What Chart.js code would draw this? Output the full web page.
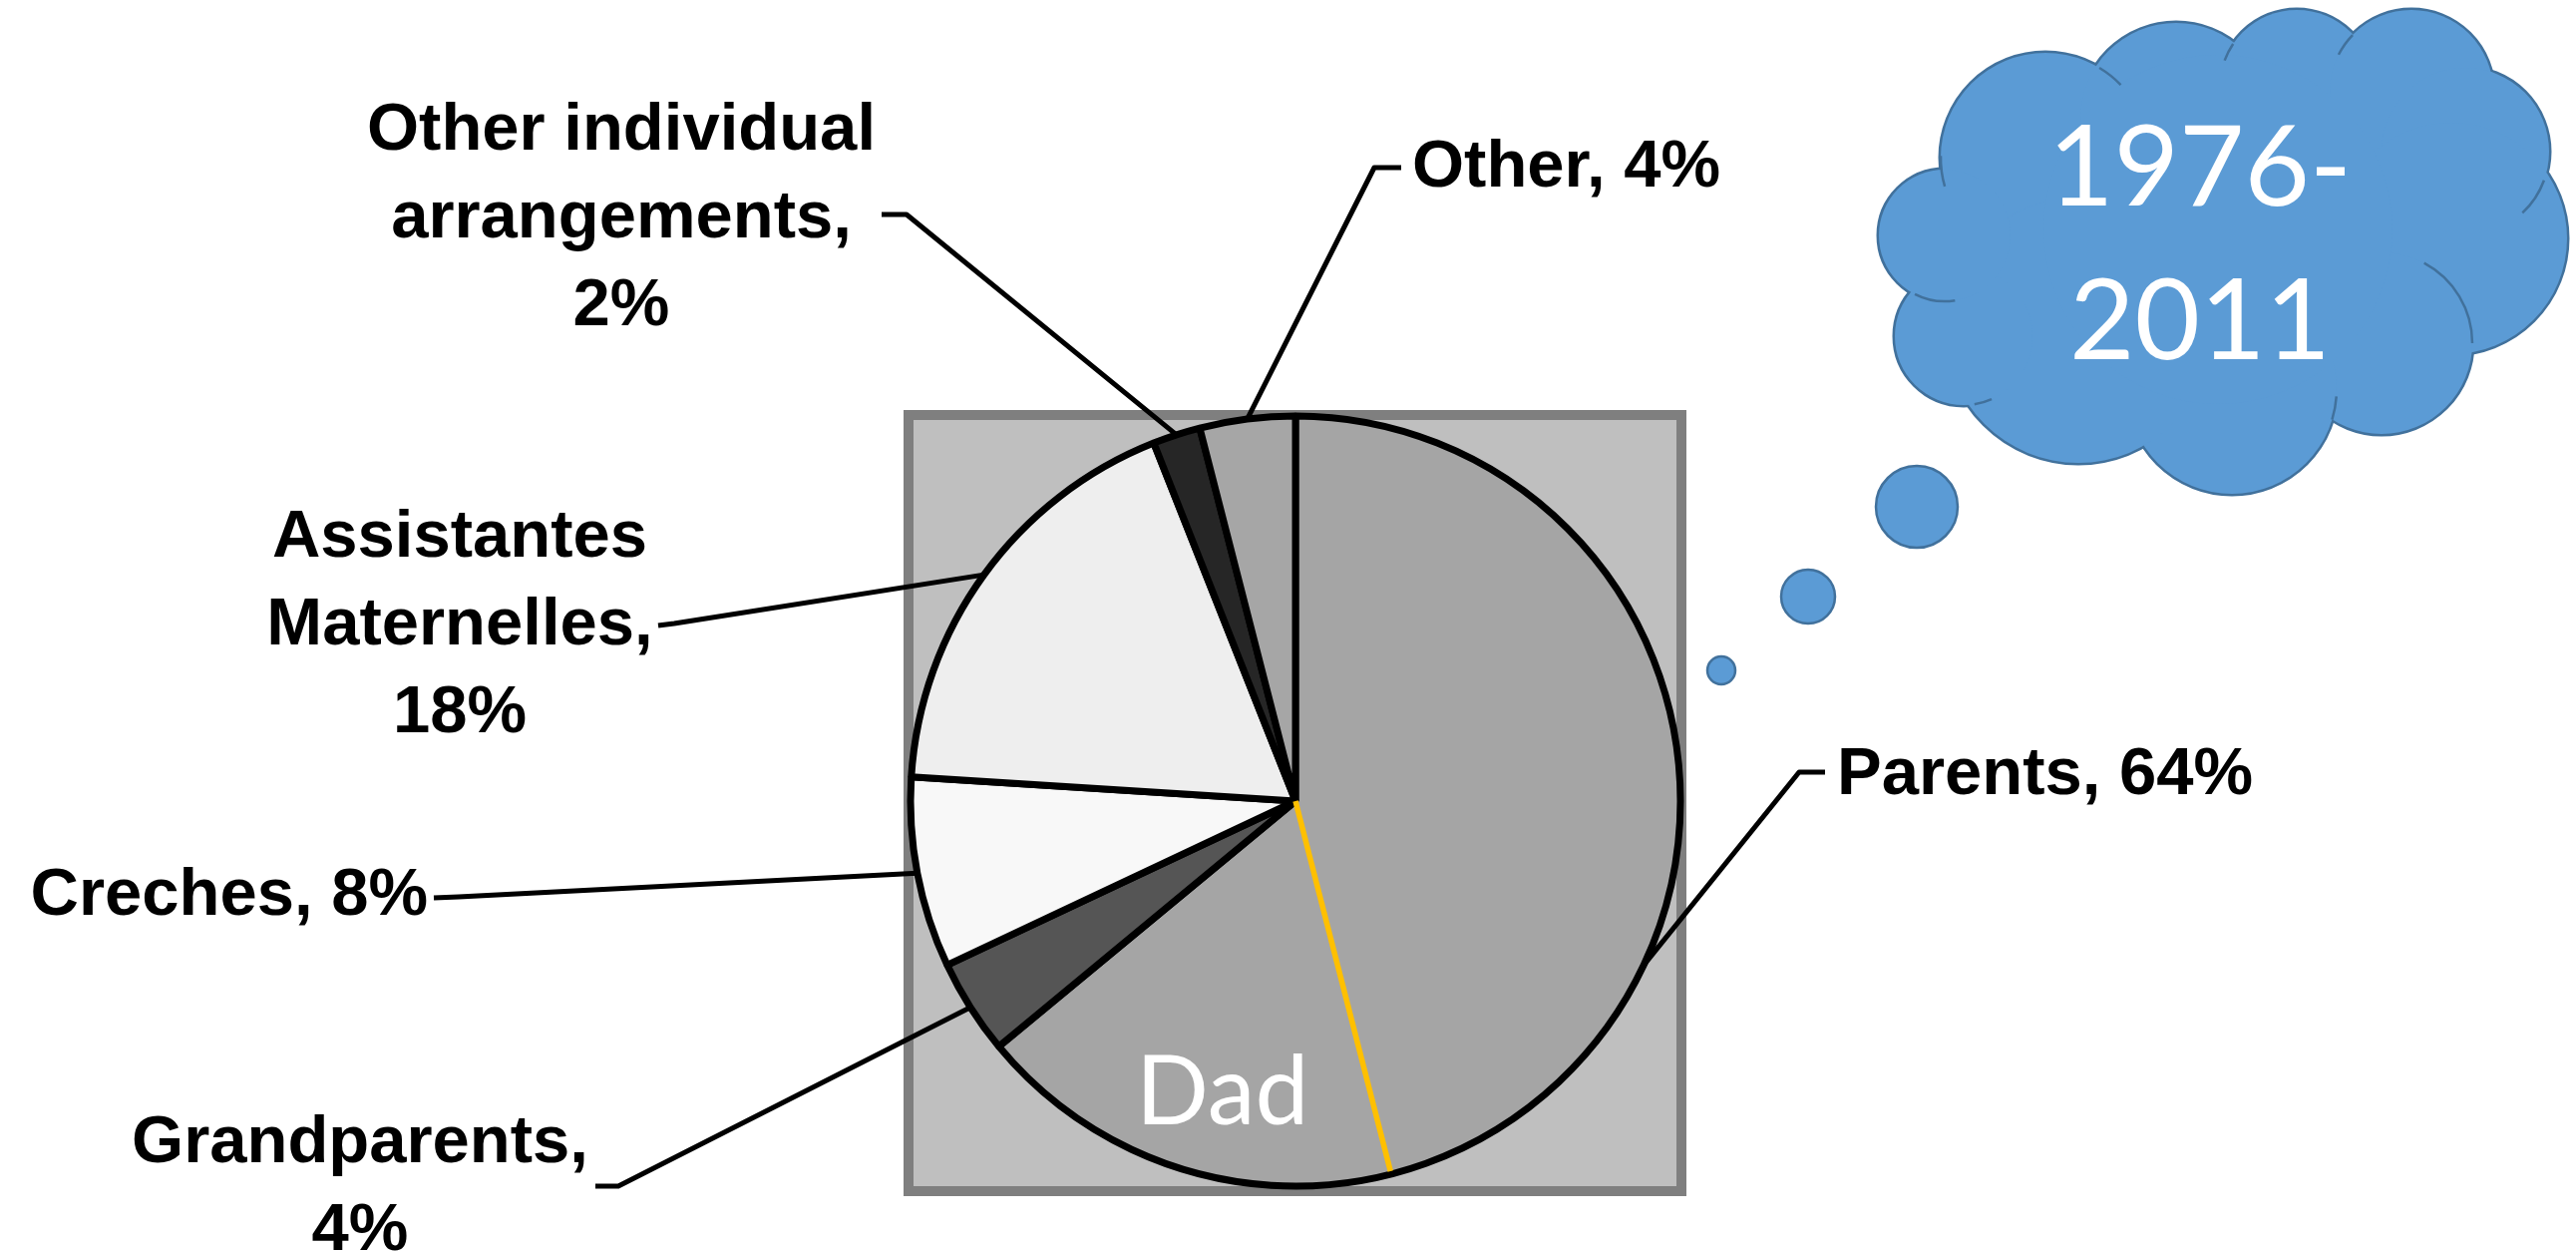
<!DOCTYPE html>
<html lang="en">
<head>
<meta charset="UTF-8" />
<title>Childcare arrangements 1976-2011</title>
<script src="https://cdn.jsdelivr.net/npm/chart.js@4.4.1/dist/chart.umd.min.js"></script>
<style>
  html, body { margin: 0; padding: 0; background: #fff; }
  #chart { display: block; }
</style>
</head>
<body>
<canvas id="chart" width="2583" height="1254"></canvas>
<script>
// data, clockwise from 12 o'clock
const categories = ['Parents', 'Grandparents', 'Creches', 'Assistantes Maternelles', 'Other individual arrangements', 'Other'];
const shares = [64, 4, 8, 18, 2, 4];
const sliceColors = ['#a5a5a5', '#555555', '#f8f8f8', '#eeeeee', '#262626', '#a6a6a6'];
const dadShare = 18; // the "Dad" part of the Parents slice, % of the total
const periodLines = ['1976-', '2011'];

// where the callouts sit (wrap = words on the first line, 0 = one line)
const labelLayout = [
  { elbow: [1804, 774], end: [1830, 774], x: 1842, y: 796, align: 'left', wrap: 0 },
  { elbow: [620, 1189], end: [597, 1189], x: 361, y: 1165, align: 'center', wrap: 1 },
  { elbow: [460, 899], end: [435, 900], x: 429, y: 917, align: 'right', wrap: 0 },
  { elbow: [676, 625], end: [660, 627], x: 461, y: 558, align: 'center', wrap: 1 },
  { elbow: [909, 215], end: [884, 215], x: 623, y: 150, align: 'center', wrap: 2 },
  { elbow: [1378, 168], end: [1405, 168], x: 1416, y: 187, align: 'left', wrap: 0 },
];
const boxRect = [906, 411, 1691, 1199];

// thought cloud (x, y, r)
const cloudLobes = [
  [2051, 158, 105], [2182, 119, 96], [2303, 87, 77], [2418, 92, 82], [2472, 152, 84],
  [2458, 239, 116], [2388, 344, 91], [2238, 390, 105], [2084, 331, 133], [1969, 337, 69], [1950, 236, 66],
];
const cloudCore = [2224, 230, 175];
const creases = [[0, 164, 181], [0, -59, -44], [2, 200, 214], [3, 207, 224], [4, 20, 47], [6, -62, 0], [7, 4, 17], [9, 66, 81], [10, 81, 117]];
const bubbles = [[1922, 508, 41], [1813, 598, 27], [1726, 672, 14]];

function labelLines(name, value, wrap) {
  if (!wrap) return [name + ', ' + value + '%'];
  const words = name.split(' ');
  if (wrap >= words.length) return [name + ',', value + '%'];
  return [words.slice(0, wrap).join(' '), words.slice(wrap).join(' ') + ',', value + '%'];
}

const plotBox = {
  id: 'plotBox',
  beforeDatasetsDraw(chart) {
    const ctx = chart.ctx;
    const [l, t, r, b] = boxRect;
    ctx.save();
    ctx.fillStyle = '#bfbfbf';
    ctx.fillRect(l, t, r - l, b - t);
    ctx.strokeStyle = '#7f7f7f';
    ctx.lineWidth = 10;
    ctx.strokeRect(l + 5, t + 5, r - l - 10, b - t - 10);
    ctx.restore();
  },
};

const callouts = {
  id: 'callouts',
  afterDatasetsDraw(chart) {
    const ctx = chart.ctx;
    const arcs = chart.getDatasetMeta(0).data;
    const total = shares.reduce((s, v) => s + v, 0);

    // Dad split inside the Parents slice
    const p = arcs[0].getProps(['x', 'y', 'startAngle', 'endAngle', 'outerRadius']);
    const dadAngle = p.endAngle - dadShare / total * Math.PI * 2;
    ctx.save();
    ctx.strokeStyle = '#ffc000';
    ctx.lineWidth = 5.5;
    ctx.beginPath();
    ctx.moveTo(p.x, p.y);
    ctx.lineTo(p.x + Math.cos(dadAngle) * (p.outerRadius - 3), p.y + Math.sin(dadAngle) * (p.outerRadius - 3));
    ctx.stroke();
    ctx.fillStyle = '#ffffff';
    ctx.font = '96px Lato, "Open Sans", sans-serif';
    ctx.textAlign = 'center';
    ctx.textBaseline = 'alphabetic';
    ctx.fillText('Dad', p.x - 0.19 * p.outerRadius, p.y + 0.84 * p.outerRadius);
    ctx.restore();

    // leader lines and labels
    ctx.save();
    ctx.strokeStyle = '#000';
    ctx.lineWidth = 5;
    ctx.lineJoin = 'round';
    ctx.fillStyle = '#000';
    ctx.font = 'bold 67px "Liberation Sans", Arial, sans-serif';
    ctx.textBaseline = 'alphabetic';
    arcs.forEach((arc, i) => {
      const a = arc.getProps(['x', 'y', 'startAngle', 'endAngle', 'outerRadius']);
      const mid = (a.startAngle + a.endAngle) / 2;
      const L = labelLayout[i];
      ctx.beginPath();
      ctx.moveTo(a.x + Math.cos(mid) * a.outerRadius, a.y + Math.sin(mid) * a.outerRadius);
      ctx.lineTo(L.elbow[0], L.elbow[1]);
      ctx.lineTo(L.end[0], L.end[1]);
      ctx.stroke();
      ctx.textAlign = L.align;
      labelLines(categories[i], shares[i], L.wrap).forEach((t, k) => {
        ctx.fillText(t, L.x, L.y + k * 88);
      });
    });
    ctx.restore();
  },
  afterDraw(chart) {
    const ctx = chart.ctx;
    const circle = (x, y, r) => { ctx.beginPath(); ctx.arc(x, y, r, 0, Math.PI * 2); };
    ctx.save();
    ctx.fillStyle = '#5b9bd5';
    ctx.strokeStyle = '#41719c';
    ctx.lineWidth = 5;
    cloudLobes.forEach(([x, y, r]) => { circle(x, y, r); ctx.stroke(); });
    cloudLobes.forEach(([x, y, r]) => { circle(x, y, r); ctx.fill(); });
    circle(...cloudCore); ctx.fill();
    ctx.lineWidth = 2.5;
    creases.forEach(([i, a0, a1]) => {
      const [x, y, r] = cloudLobes[i];
      ctx.beginPath();
      ctx.arc(x, y, r, a0 * Math.PI / 180, a1 * Math.PI / 180);
      ctx.stroke();
    });
    bubbles.forEach(([x, y, r]) => { circle(x, y, r); ctx.fill(); ctx.stroke(); });
    ctx.fillStyle = '#ffffff';
    ctx.font = '113px Lato, "Open Sans", sans-serif';
    ctx.textAlign = 'center';
    ctx.textBaseline = 'alphabetic';
    periodLines.forEach((t, k) => ctx.fillText(t, 2206, 206 + k * 154));
    ctx.restore();
  },
};

new Chart(document.getElementById('chart'), {
  type: 'pie',
  data: {
    labels: categories,
    datasets: [{
      data: shares,
      backgroundColor: sliceColors,
      borderColor: '#000000',
      borderWidth: 7,
      radius: 386,
    }],
  },
  options: {
    responsive: false,
    animation: false,
    devicePixelRatio: 1,
    events: [],
    layout: { padding: { left: 906, right: 891, top: 409, bottom: 57 } },
    plugins: { legend: { display: false }, tooltip: { enabled: false } },
  },
  plugins: [plotBox, callouts],
});
</script>
</body>
</html>
